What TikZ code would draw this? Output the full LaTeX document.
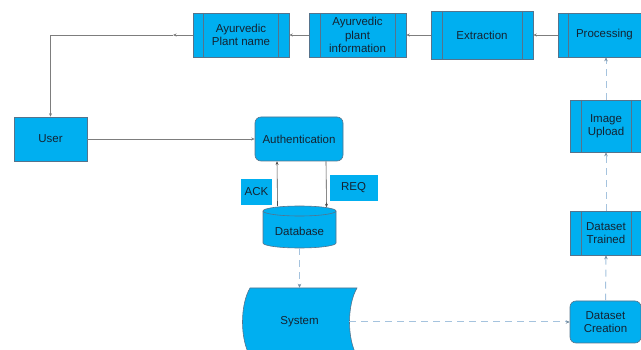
\documentclass[tikz,border=0pt]{standalone}
\usepackage{fontspec}
\setmainfont{Liberation Sans}
\usetikzlibrary{arrows.meta}
\definecolor{boxfill}{RGB}{0,175,240}
\definecolor{boxline}{RGB}{85,115,140}
\definecolor{txt}{RGB}{20,35,50}
\definecolor{dashc}{RGB}{165,195,222}
\definecolor{linec}{RGB}{125,125,125}
\begin{document}
\begin{tikzpicture}[x=1pt,y=-1pt,
  font=\fontsize{11.5}{13.5}\selectfont, text=txt,
  base/.style={draw=boxline, fill=boxfill, line width=0.6pt, inner sep=0pt, align=center},
  procbox/.style={base, rectangle},
  rndbox/.style={base, rounded corners=6pt},
  subbox/.style={base, path picture={
      \draw[boxline, line width=0.6pt] ([xshift=#1]path picture bounding box.north west) -- ([xshift=#1]path picture bounding box.south west);
      \draw[boxline, line width=0.6pt] ([xshift=-#1]path picture bounding box.north east) -- ([xshift=-#1]path picture bounding box.south east);}},
  subbox/.default=10.5pt,
  tagbox/.style={base, draw=none},
  arr/.style={draw=linec, line width=0.6pt, -{Stealth[length=3.5pt,width=3pt]}},
  arrd/.style={draw=black!70, line width=0.6pt, -{Stealth[length=3.5pt,width=3pt]}},
  dashline/.style={draw=dashc, line width=1pt, dash pattern=on 7pt off 5pt, -{Stealth[length=4pt,width=3.5pt,color=boxline!80]}}
]
\useasboundingbox (0,0) rectangle (641,350);
\clip (0,0) rectangle (641,350);

% top row
\node[subbox, minimum width=96pt, minimum height=44pt] (pn) at (241,35) {Ayurvedic\\Plant name};
\node[subbox=11pt, minimum width=97pt, minimum height=44pt] (pi) at (357.5,35) {Ayurvedic\\plant\\information};
\node[subbox=11pt, minimum width=102pt, minimum height=48pt] (ex) at (482,35) {Extraction};
\node[subbox=10pt, minimum width=94pt, minimum height=44pt, text width=94pt, align=left] (pr) at (605,35) {\hspace*{18pt}Processing};

% right column
\node[subbox=11pt, minimum width=72pt, minimum height=52pt] (iu) at (606,126) {Image\\Upload};
\node[subbox=11pt, minimum width=72pt, minimum height=44pt] (dt) at (606,233) {Dataset\\Trained};
\node[rndbox, minimum width=71pt, minimum height=42pt] (dc) at (605.5,322) {Dataset\\Creation};

% left / middle
\node[procbox, minimum width=73pt, minimum height=44pt] (us) at (50.5,139) {User};
\node[rndbox, minimum width=88pt, minimum height=44pt] (au) at (299,139) {Authentication};
\node[tagbox, minimum width=31pt, minimum height=26pt] (ack) at (256.5,192) {ACK};
\node[tagbox, minimum width=48pt, minimum height=26pt] (req) at (353.5,188) {REQ};

% database cylinder
\filldraw[draw=boxline, fill=boxfill, line width=0.6pt]
  (263,211) -- (263,243) arc[start angle=180, end angle=360, x radius=36.5pt, y radius=5pt]
  -- (336,211) arc[start angle=0, end angle=180, x radius=36.5pt, y radius=5pt] -- cycle;
\draw[boxline, line width=0.6pt] (263,211) arc[start angle=180, end angle=360, x radius=36.5pt, y radius=5pt];
\node[minimum width=73pt, minimum height=42pt, inner sep=0pt] (db) at (299.5,227) {};
\node (dbl) at (299.5,231) {Database};

% system (stored data)
\filldraw[draw=boxline, fill=boxfill, line width=0.6pt]
  (250,288) -- (357,288) .. controls (347,305) and (347,339) .. (357,356)
  -- (250,356) .. controls (240,339) and (240,305) .. (250,288) -- cycle;
\node[minimum width=99pt, minimum height=68pt, inner sep=0pt] (sy) at (299.5,322) {System};

% connectors
\coordinate (m1) at (173,35);
\draw[arr] (pn.west) -- (m1);
\draw[arr] (m1) -| (us.north);
\draw[arr] (pi.west) -- (pn.east);
\draw[arr] (ex.west) -- (pi.east);
\draw[arr] (pr.west) -- (ex.east);
\draw[arr] (us.east) -- (au.west);
\draw[arrd] ([xshift=-22pt]db.north) -- ([xshift=-22pt]au.south);
\draw[arrd] ([xshift=27pt]au.south) -- ([xshift=27pt,yshift=-1.5pt]db.north);
\draw[dashline] (db.south) -- (sy.north);
\draw[dashline] (sy.east) -- (dc.west);
\draw[dashline] (dc.north) -- (dt.south);
\draw[dashline] (dt.north) -- (iu.south);
\draw[dashline] (iu.north) -- (pr.south -| iu.north);
\end{tikzpicture}
\end{document}
